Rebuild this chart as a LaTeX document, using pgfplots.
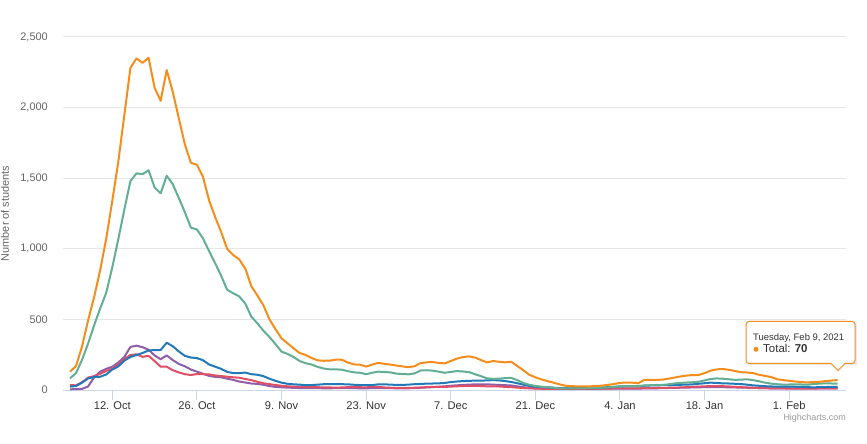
\documentclass[border=0pt]{standalone}
\usepackage{fontspec}
\setmainfont{Liberation Sans}
\usepackage{pgfplots}
\usepackage{pgfplotstable}
\pgfplotsset{compat=1.18}

\definecolor{cTotal}{HTML}{F48D1B}
\definecolor{cGreen}{HTML}{62AE92}
\definecolor{cBlue}{HTML}{2179B8}
\definecolor{cRed}{HTML}{DF4F65}
\definecolor{cPurple}{HTML}{8E5EA8}
\definecolor{cAxis}{HTML}{CCD6EB}
\definecolor{cGrid}{HTML}{E6E6E6}
\definecolor{cLab}{HTML}{666666}
\definecolor{cTxt}{HTML}{333333}
\definecolor{cCredit}{HTML}{999999}

% d = days since 12 Oct 2020
\pgfplotstableread{
d total green blue red purple
-7 130 83 24 35 5
-6 170 120 28 33 6
-5 310 215 52 55 8
-4 495 330 82 88 25
-3 660 460 92 98 90
-2 850 578 94 115 130
-1 1074 690 110 135 150
0 1340 870 145 150 165
1 1620 1070 167 180 195
2 1950 1280 208 220 235
3 2282 1480 234 248 305
4 2348 1534 248 253 314
5 2317 1529 262 235 303
6 2353 1556 280 242 285
7 2140 1435 283 205 245
8 2048 1393 283 165 218
9 2266 1517 335 165 245
10 2112 1458 310 140 212
11 1925 1360 273 125 185
12 1740 1260 242 112 168
13 1609 1150 230 106 145
14 1595 1137 226 113 130
15 1510 1074 211 112 115
16 1345 985 181 111 100
17 1227 900 165 103 93
18 1120 810 150 99 90
19 1000 710 128 94 80
20 956 685 120 90 72
21 925 663 120 87 60
22 860 612 123 78 53
23 735 520 112 70 46
24 670 472 108 58 43
25 600 420 98 48 37
26 500 375 80 42 28
27 430 325 65 35 22
28 366 272 52 30 19
29 330 255 44 26 17
30 295 234 40 24 15
31 262 205 38 24 14
32 248 190 34 22 14
33 226 180 35 20 13
34 210 163 38 20 13
35 207 152 41 18 12
36 208 146 42 18 12
37 215 146 42 17 13
38 214 144 41 18 14
39 194 133 40 20 14
40 181 125 37 22 13
41 179 122 35 20 12
42 166 112 35 18 12
43 180 122 35 25 13
44 192 130 40 22 14
45 185 127 40 18 14
46 180 125 38 16 13
47 173 116 36 15 12
48 167 113 36 15 12
49 162 111 38 15 12
50 168 117 41 16 14
51 190 138 43 18 16
52 196 140 45 20 18
53 198 137 46 22 20
54 192 130 47 22 23
55 188 122 50 22 26
56 205 128 56 24 30
57 222 134 60 26 33
58 233 131 63 28 36
59 238 127 65 30 38
60 230 112 66 30 40
61 212 98 66 28 40
62 196 83 68 26 40
63 205 79 70 26 38
64 200 80 68 25 36
65 196 84 63 22 34
66 200 86 57 20 32
67 170 70 48 17 26
68 140 50 38 14 20
69 108 37 29 12 15
70 90 29 24 10 12
71 75 23 21 9 10
72 63 19 19 8 9
73 52 16 16 8 8
74 40 12 14 8 8
75 30 12 14 8 8
76 27 11 14 8 8
77 26 11 15 8 8
78 26 12 15 8 8
79 26 13 16 9 8
80 28 14 17 9 8
81 31 16 18 10 9
82 36 18 20 10 9
83 42 22 22 11 10
84 50 26 25 12 10
85 53 28 27 12 10
86 52 28 28 12 10
87 47 27 28 12 10
88 72 32 30 13 11
89 72 34 32 14 12
90 72 34 33 14 12
91 73 36 34 15 13
92 80 40 35 16 14
93 88 46 36 17 15
94 96 50 37 18 16
95 102 53 38 20 17
96 106 55 40 22 18
97 106 58 44 24 19
98 120 68 48 26 20
99 137 78 52 28 21
100 146 82 50 28 21
101 149 80 47 27 20
102 143 76 46 25 19
103 135 72 44 22 18
104 126 73 42 20 17
105 124 76 38 18 16
106 120 70 33 16 15
107 108 62 30 14 14
108 100 52 27 13 13
109 92 45 25 12 12
110 76 41 24 11 12
111 70 38 24 11 12
112 65 39 24 10 11
113 60 40 23 10 11
114 56 39 22 10 11
115 54 38 20 10 11
116 56 42 19 10 11
117 58 45 20 11 11
118 63 47 21 11 11
119 67 46 22 12 11
120 70 45 23 12 11
}\students

\begin{document}
\begin{tikzpicture}
\useasboundingbox (-63bp,-54bp) rectangle (804bp,390bp);
\begin{axis}[
  at={(0,0)}, anchor=south west,
  scale only axis, width=783bp, height=353bp,
  xmin=-8.16, xmax=121.4, ymin=0, ymax=2500,
  axis lines*=left,
  x axis line style={draw=cAxis, line width=1bp},
  y axis line style={draw=none},
  tick align=outside, major tick length=10bp,
  xtick style={draw=cAxis, line width=1bp},
  ytick style={draw=none},
  xtick={0,14,28,42,56,70,84,98,112},
  xticklabels={12. Oct,26. Oct,9. Nov,23. Nov,7. Dec,21. Dec,4. Jan,18. Jan,1. Feb},
  ytick={0,500,1000,1500,2000,2500},
  ymajorgrids, grid style={draw=cGrid, line width=1bp},
  xticklabel style={font=\fontsize{11.2}{13}\selectfont, text=cTxt, inner sep=0pt, yshift=-1.7bp},
  yticklabel style={font=\fontsize{11}{13}\selectfont, text=cLab, inner sep=0pt, xshift=-5bp,
    /pgf/number format/.cd, 1000 sep={,}, assume math mode=true},
  ylabel={Number of students},
  ylabel style={at={(axis description cs:-0.0741,0.5)}, anchor=center,
    font=\fontsize{11}{13}\selectfont, text=cLab},
  every axis plot/.append style={line width=2bp, line join=round},
  no markers, clip=false,
]
\addplot[cPurple] table[x=d, y=purple] {\students};
\addplot[cRed] table[x=d, y=red] {\students};
\addplot[cBlue] table[x=d, y=blue] {\students};
\addplot[cGreen] table[x=d, y=green] {\students};
\addplot[cTotal] table[x=d, y=total] {\students};
\end{axis}

% tooltip
\fill[black!8] (684.5bp,25bp) -- (793.5bp,25bp) -- (793.5bp,67bp) -- (684.5bp,67bp) -- cycle;
\draw[cTotal, line width=1bp, fill=white, rounded corners=3bp]
  (683bp,26.5bp) [sharp corners] -- (768bp,26.5bp) -- (775bp,19.5bp) -- (782bp,26.5bp)
  [rounded corners=3bp] -- (792bp,26.5bp) -- (792bp,68.5bp) -- (683bp,68.5bp) -- cycle;
\node[anchor=base west, inner sep=0pt, font=\fontsize{9.5}{11}\selectfont, text=cTxt]
  at (690bp,49bp) {Tuesday, Feb 9, 2021};
\fill[cTotal] (693bp,40.7bp) circle (2.5bp);
\node[anchor=base west, inner sep=0pt, font=\fontsize{11.5}{13}\selectfont, text=cTxt]
  at (700bp,37.3bp) {Total: \textbf{70}};

% credit
\node[anchor=base east, inner sep=0pt, font=\fontsize{9}{10}\selectfont, text=cCredit]
  at (783bp,-30.7bp) {Highcharts.com};
\end{tikzpicture}
\end{document}
